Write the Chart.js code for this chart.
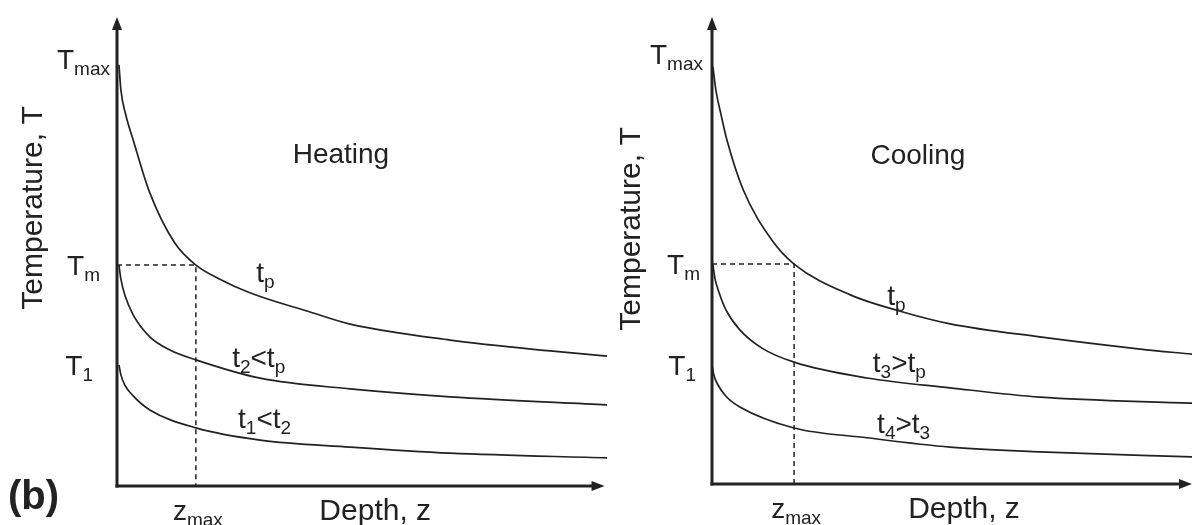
<!DOCTYPE html>
<html><head><meta charset="utf-8">
<script src="https://cdn.jsdelivr.net/npm/chart.js@4.4.1/dist/chart.umd.min.js"></script>
<style>
html,body{margin:0;padding:0;background:#fff;}
#wrap{position:relative;width:1192px;height:525px;overflow:hidden;background:#fff;}
.pane{position:absolute;top:0;height:525px;}
#p1{left:0;width:610px;}
#p2{left:610px;width:582px;}
</style></head><body>
<div id="wrap">
<div class="pane" id="p1"><canvas id="c1" width="610" height="525"></canvas></div>
<div class="pane" id="p2"><canvas id="c2" width="582" height="525"></canvas></div>
</div>
<script>
// ---------- data (depth x, temperature y; arbitrary units 0..100) ----------
const heatTpX  = [0.4, 0.8, 1.8, 3.3, 6.7, 11.8, 16.1, 21.0, 27.1, 39.4, 47.6, 68.0, 88.4, 100];
const heatTpY  = [89.8, 84.4, 79.1, 73.8, 62.5, 51.8, 47.1, 44.1, 41.2, 37.1, 34.5, 31.1, 28.8, 27.7];
const heatT2X  = [0.4, 0.8, 1.6, 3.3, 6.7, 10.8, 16.1, 29.2, 47.6, 68.0, 100];
const heatT2Y  = [47.1, 44.1, 40.7, 36.5, 31.8, 29.0, 26.9, 23.0, 20.7, 19.0, 17.3];
const heatT1X  = [0.4, 0.8, 1.6, 3.3, 6.7, 16.1, 29.2, 47.6, 68.0, 100];
const heatT1Y  = [25.8, 23.7, 21.5, 19.2, 16.2, 12.4, 9.8, 8.3, 7.0, 6.0];

const coolTpX  = [0.2, 0.8, 1.9, 3.1, 6.5, 12.5, 17.1, 28.8, 39.2, 49.6, 68.3, 89.2, 100];
const coolTpY  = [89.3, 84.4, 79.0, 73.7, 63.0, 52.2, 47.1, 40.5, 37.0, 34.3, 31.5, 28.9, 27.8];
const coolT3X  = [0.2, 0.6, 1.5, 2.9, 5.8, 10.4, 17.1, 32.3, 49.6, 68.3, 100];
const coolT3Y  = [46.9, 44.1, 40.9, 37.3, 33.0, 29.1, 26.1, 22.7, 20.6, 18.6, 17.3];
const coolT4X  = [0.0, 0.4, 1.25, 2.9, 5.8, 17.1, 32.3, 49.6, 68.3, 100];
const coolT4Y  = [25.5, 23.3, 21.2, 18.8, 16.5, 12.0, 9.9, 7.9, 6.9, 5.8];

const heatZmax = 16.1, heatTm = 47.1;
const coolZmax = 17.1, coolTm = 47.1;

const yTickLabels = ['T_{max}', 'T_{m}', 'T_{1}'];
const heatYTicks  = [91.0, 47.1, 25.8];
const coolYTicks  = [92.0, 47.1, 25.5];
const xTickLabels = ['z_{max}'];
const heatCurveLabels = ['t_{p}', 't_{2}<t_{p}', 't_{1}<t_{2}'];
const coolCurveLabels = ['t_{p}', 't_{3}>t_{p}', 't_{4}>t_{3}'];

// ---------- helpers ----------
const INK = '#222222';
const FONT = '"Liberation Sans", Arial, Helvetica, sans-serif';
const pts = (xs, ys) => xs.map((x, i) => ({x, y: ys[i]}));

function parseRich(s) {
  const out = []; const re = /_\{([^}]*)\}/g; let last = 0, m;
  while ((m = re.exec(s))) {
    if (m.index > last) out.push([s.slice(last, m.index), false]);
    out.push([m[1], true]); last = re.lastIndex;
  }
  if (last < s.length) out.push([s.slice(last), false]);
  return out;
}
function drawRich(ctx, s, x, y, align, size) {
  size = size || 28;
  const big = size + 'px ' + FONT, small = Math.round(size * 0.68) + 'px ' + FONT;
  const parts = parseRich(s);
  let w = 0;
  parts.forEach(p => { ctx.font = p[1] ? small : big; w += ctx.measureText(p[0]).width; });
  let sx = align === 'right' ? x - w : align === 'center' ? x - w / 2 : x;
  ctx.textAlign = 'left'; ctx.textBaseline = 'alphabetic';
  parts.forEach(p => {
    ctx.font = p[1] ? small : big;
    ctx.fillText(p[0], sx, p[1] ? y + Math.round(size * 0.22) : y);
    sx += ctx.measureText(p[0]).width;
  });
}

function makeDecor(cfg) {
  return {
    id: 'decor',
    afterDraw(chart) {
      const ctx = chart.ctx, sx = chart.scales.x, sy = chart.scales.y;
      ctx.save();
      ctx.strokeStyle = INK; ctx.fillStyle = INK; ctx.lineWidth = 3; ctx.lineCap = 'butt';
      const x0 = sx.getPixelForValue(0), y0 = sy.getPixelForValue(0);
      const yTop = sy.getPixelForValue(100), xEnd = sx.getPixelForValue(cfg.xArrowEnd);
      ctx.beginPath(); ctx.moveTo(x0, y0 + 1.5); ctx.lineTo(x0, yTop + 10); ctx.stroke();
      ctx.beginPath(); ctx.moveTo(x0 - 1.5, y0); ctx.lineTo(xEnd - 10, y0); ctx.stroke();
      ctx.beginPath(); ctx.moveTo(x0, yTop); ctx.lineTo(x0 - 5, yTop + 13); ctx.lineTo(x0 + 5, yTop + 13); ctx.closePath(); ctx.fill();
      ctx.beginPath(); ctx.moveTo(xEnd, y0); ctx.lineTo(xEnd - 13, y0 - 5); ctx.lineTo(xEnd - 13, y0 + 5); ctx.closePath(); ctx.fill();

      yTickLabels.forEach((t, i) => {
        drawRich(ctx, t, x0 - cfg.yLabelGap[i], sy.getPixelForValue(cfg.yTicks[i]) + 10, 'right');
      });
      drawRich(ctx, xTickLabels[0], sx.getPixelForValue(cfg.zmax) + 2, y0 + 34, 'center');

      ctx.font = '30px ' + FONT; ctx.textAlign = 'center'; ctx.textBaseline = 'alphabetic';
      ctx.fillText('Depth, z', sx.getPixelForValue(cfg.depthX), y0 + 34);
      ctx.save();
      ctx.translate(cfg.yTitle[0], cfg.yTitle[1]);
      ctx.rotate(-Math.PI / 2);
      ctx.fillText('Temperature, T', 0, 0);
      ctx.restore();

      ctx.font = '28px ' + FONT;
      ctx.fillText(cfg.title[0], sx.getPixelForValue(cfg.title[1]), sy.getPixelForValue(cfg.title[2]));
      cfg.curveLabels.forEach((t, i) => {
        const p = cfg.curveLabelPos[i];
        drawRich(ctx, t, sx.getPixelForValue(p[0]), sy.getPixelForValue(p[1]), 'left');
      });
      if (cfg.tag) {
        ctx.font = 'bold 40px ' + FONT; ctx.textAlign = 'left';
        ctx.fillText(cfg.tag[0], cfg.tag[1], cfg.tag[2]);
      }
      ctx.restore();
    }
  };
}

function makeChart(id, curves, zmax, tm, padding, cfg) {
  const line = d => ({
    data: d, borderColor: INK, borderWidth: 1.7, pointRadius: 0,
    cubicInterpolationMode: 'monotone', fill: false, clip: false
  });
  const datasets = curves.map(line);
  datasets.push({
    data: [{x: 0, y: tm}, {x: zmax, y: tm}, {x: zmax, y: 0}],
    borderColor: INK, borderWidth: 1.5, borderDash: [5, 4], pointRadius: 0,
    tension: 0, fill: false, clip: false
  });
  return new Chart(document.getElementById(id), {
    type: 'line',
    data: {datasets},
    options: {
      responsive: false, animation: false, devicePixelRatio: 1,
      layout: {padding},
      plugins: {legend: {display: false}, tooltip: {enabled: false}},
      scales: {
        x: {type: 'linear', min: 0, max: 100, display: false},
        y: {type: 'linear', min: 0, max: 100, display: false}
      }
    },
    plugins: [makeDecor(cfg)]
  });
}

makeChart('c1',
  [pts(heatTpX, heatTpY), pts(heatT2X, heatT2Y), pts(heatT1X, heatT1Y)],
  heatZmax, heatTm,
  {left: 117, right: 3, top: 17, bottom: 39},
  {
    xArrowEnd: 99.5, yTicks: heatYTicks, yLabelGap: [7, 17, 24], zmax: heatZmax, depthX: 52.7,
    yTitle: [42, 208], title: ['Heating', 45.7, 68.9],
    curveLabels: heatCurveLabels, curveLabelPos: [[28.4, 43.5], [23.5, 25.4], [24.7, 12.4]],
    tag: ['(b)', 8, 509]
  });

makeChart('c2',
  [pts(coolTpX, coolTpY), pts(coolT3X, coolT3Y), pts(coolT4X, coolT4Y)],
  coolZmax, coolTm,
  {left: 102, right: 0, top: 17, bottom: 41},
  {
    xArrowEnd: 100, yTicks: coolYTicks, yLabelGap: [9, 12, 16], zmax: coolZmax, depthX: 52.5,
    yTitle: [30, 229], title: ['Cooling', 42.9, 68.5],
    curveLabels: coolCurveLabels, curveLabelPos: [[36.5, 38.3], [33.5, 24.0], [34.4, 10.9]],
    tag: null
  });
</script>
</body></html>
